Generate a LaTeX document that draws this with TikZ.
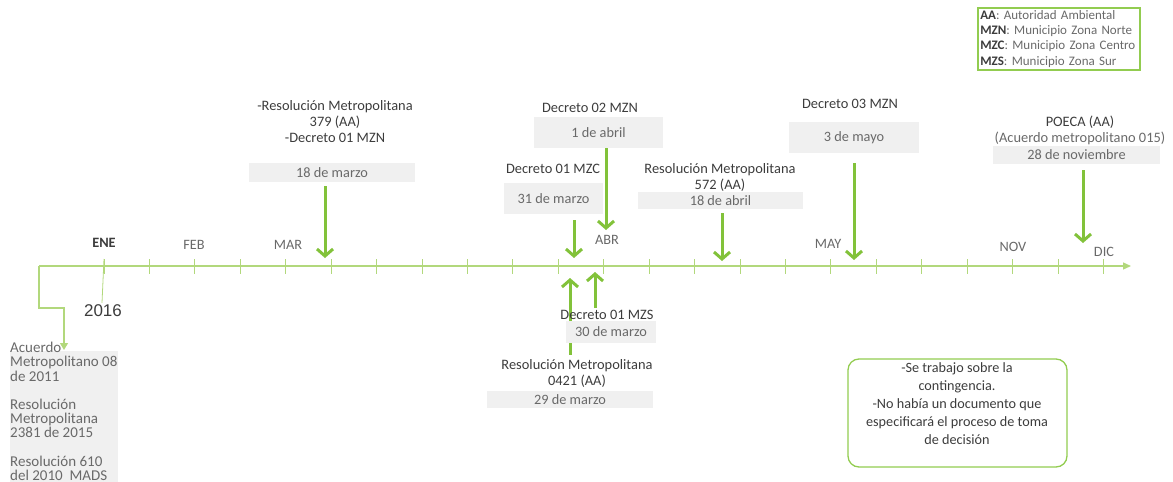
\documentclass[tikz,border=0pt]{standalone}
\usepackage{fontspec}
\setmainfont{Carlito}
\newfontfamily\yearfont{Liberation Sans}
\usepackage{tikz}
\usetikzlibrary{positioning}
\usetikzlibrary{arrows.meta}

\definecolor{axisgreen}{RGB}{178,216,124}
\definecolor{arrowgreen}{RGB}{130,194,58}
\definecolor{framegreen}{RGB}{146,204,80}
\definecolor{boxgray}{RGB}{240,240,240}
\definecolor{titlegray}{RGB}{60,60,60}
\definecolor{dategray}{RGB}{105,105,105}

\tikzset{
	axisline/.style={draw=axisgreen, line width=1.4pt},
	tickmark/.style={draw=axisgreen, line width=1pt},
	evarrow/.style={draw=arrowgreen, line width=3pt, shorten <=4pt,
		-{Straight Barb[length=7pt,width=16pt]}},
	datebox/.style={fill=boxgray, text=dategray, inner sep=0pt,
		font=\fontsize{14.3}{16}\selectfont},
	evtitle/.style={text=titlegray, align=center, inner sep=0pt,
		font=\fontsize{14.4}{16}\selectfont},
	monthlabel/.style={text=dategray, inner sep=0pt,
		font=\fontsize{14.3}{15}\selectfont},
}

\begin{document}
\begin{tikzpicture}[x=1pt,y=-1pt]

	\useasboundingbox (0,0) rectangle (1173,482);

	%Axis
	\coordinate (axstart) at (39,266);
	\coordinate (axend) at (1131,266);
	\draw[axisline, -{Triangle[length=8pt,width=7pt]}] (axstart) -- (axend);
	\foreach \i in {0,...,22}
		\draw[tickmark] (104+45.43*\i,259) -- ++(0,15);
	\coordinate (enetick) at (104,259);

	%Months
	\node[monthlabel, text=titlegray, font=\fontsize{14.3}{15}\selectfont\bfseries] (ene) at (104,243) {ENE};
	\node[monthlabel] (feb) at (194,245) {FEB};
	\node[monthlabel] (mar) at (288,245) {MAR};
	\node[monthlabel] (abr) at (607,240) {ABR};
	\node[monthlabel] (may) at (828,244) {MAY};
	\node[monthlabel] (nov) at (1013,247) {NOV};
	\node[monthlabel] (dic) at (1104,252) {DIC};

	%Year
	\node[text=titlegray, inner sep=0pt, font=\yearfont\fontsize{17}{19}\selectfont] (y2016) at (103,311) {2016};
	\draw[tickmark, line width=0.8pt] (enetick) -- ([xshift=-1pt,yshift=2pt]y2016.north);

	%Background documents
	\coordinate (refin) at (64,350);
	\node[fill=boxgray, minimum width=108, minimum height=140, anchor=north west, inner sep=0pt] (refbox) at (10,351) {};
	\node[text=dategray, align=left, anchor=north west, inner sep=0pt,
		font=\fontsize{15}{14.2}\selectfont] (reftext) at (10,342)
		{Acuerdo\\Metropolitano 08\\de 2011\\[14.2pt]Resolución\\Metropolitana\\2381 de 2015\\[14.2pt]Resolución 610\\del 2010\ \ MADS};
	\draw[axisline, line width=1.2pt, -{Triangle[length=7pt,width=8pt]}] (axstart) -- ++(0,42) -| (refin);

	%18 de marzo
	\node[datebox, minimum width=166, minimum height=19] (d18mar) at (332,172.5) {18 de marzo};
	\node[evtitle] (t18mar) at (335,122) {-Resolución Metropolitana\\379 (AA)\\-Decreto 01 MZN};
	\coordinate (e18mar) at (325,258);
	\draw[evarrow] (d18mar.south -| e18mar) -- (e18mar);

	%31 de marzo
	\node[datebox, minimum width=99, minimum height=31] (d31mar) at (553.5,198.5) {31 de marzo};
	\node[evtitle] (t31mar) at (553,169) {Decreto 01 MZC};
	\coordinate (e31mar) at (574,258);
	\draw[evarrow, shorten <=6pt] (d31mar.south -| e31mar) -- (e31mar);

	%1 de abril
	\node[datebox, minimum width=129, minimum height=31] (d1abr) at (598.5,132.5) {1 de abril};
	\node[evtitle] (t1abr) at (590,108) {Decreto 02 MZN};
	\coordinate (e1abr) at (606,230);
	\draw[evarrow, shorten <=0pt] (d1abr.south -| e1abr) -- (e1abr);

	%18 de abril
	\node[datebox, minimum width=165, minimum height=17] (d18abr) at (720.5,200.5) {18 de abril};
	\node[evtitle] (t18abr) at (720,177) {Resolución Metropolitana\\572 (AA)};
	\coordinate (e18abr) at (722,261);
	\draw[evarrow] (d18abr.south -| e18abr) -- (e18abr);

	%3 de mayo
	\node[datebox, minimum width=130, minimum height=31] (d3may) at (854,137.5) {3 de mayo};
	\node[evtitle] (t3may) at (850,104) {Decreto 03 MZN};
	\coordinate (e3may) at (854,260);
	\draw[evarrow, shorten <=10pt] (d3may.south -| e3may) -- (e3may);

	%28 de noviembre
	\node[datebox, minimum width=167, minimum height=18] (d28nov) at (1076.5,155) {28 de noviembre};
	\node[evtitle] (t28nov) at (1080,130) {POECA (AA)\\\textcolor{dategray}{(Acuerdo metropolitano 015)}};
	\coordinate (e28nov) at (1083,243);
	\draw[evarrow, shorten <=6pt] (d28nov.south -| e28nov) -- (e28nov);

	%29 de marzo (below)
	\coordinate (e29mar) at (570,278);
	\node[evtitle] (t29mar) at (577,373) {Resolución Metropolitana\\0421 (AA)};
	\draw[evarrow] (t29mar.north -| e29mar) -- (e29mar);
	\node[datebox, minimum width=166, minimum height=17] (d29mar) at (570,399.5) {29 de marzo};

	%30 de marzo (below)
	\coordinate (e30mar) at (595,272);
	\node[datebox, minimum width=90, minimum height=22] (d30mar) at (611,332) {30 de marzo};
	\node[evtitle] (t30mar) at (607,315) {Decreto 01 MZS};
	\draw[evarrow, shorten <=2pt] (t30mar.north -| e30mar) -- (e30mar);

	%Legend
	\node[draw=framegreen, line width=1.5pt, anchor=north west, text width=157, minimum height=62,
		inner sep=2.5pt, align=left, text=dategray, font=\fontsize{13}{15.2}\selectfont] (legend) at (977,7)
		{\textcolor{titlegray}{\textbf{AA}}: Autoridad Ambiental\\
		\textcolor{titlegray}{\textbf{MZN}}: Municipio Zona Norte\\
		\textcolor{titlegray}{\textbf{MZC}}: Municipio Zona Centro\\
		\textcolor{titlegray}{\textbf{MZS}}: Municipio Zona Sur};

	%Note
	\node[draw=framegreen, line width=1.3pt, rounded corners=11pt, minimum width=219, minimum height=108] (notebox) at (957.5,413) {};
	\node[evtitle, font=\fontsize{14.2}{18}\selectfont] (notetext) at (957,404)
		{-Se trabajo sobre la\\contingencia.\\-No había un documento que\\especificará el proceso de toma\\de decisión};

\end{tikzpicture}
\end{document}
